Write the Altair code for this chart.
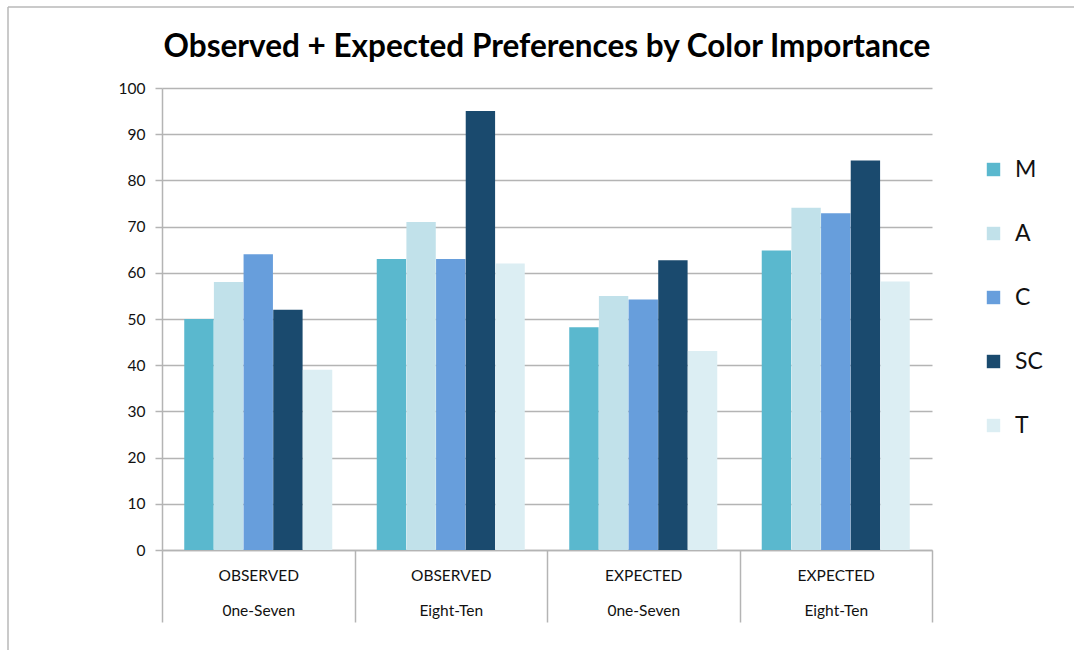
import altair as alt
import pandas as pd

# Category groups on the x axis (two-line labels) and the series in each group
kinds = ["OBSERVED", "OBSERVED", "EXPECTED", "EXPECTED"]
bands = ["0ne-Seven", "Eight-Ten", "0ne-Seven", "Eight-Ten"]
series = ["M", "A", "C", "SC", "T"]

m_vals = [50, 63, 48.2, 64.8]
a_vals = [58, 71, 55, 74.1]
c_vals = [64, 63, 54.2, 72.9]
sc_vals = [52, 95, 62.7, 84.3]
t_vals = [39, 62, 43.1, 58.1]

colors = ["#5AB8CE", "#C1E1EA", "#679EDC", "#1A4A6E", "#DCEEF3"]

title_text = "Observed + Expected Preferences by Color Importance"

groups = [f"{k}|{b}" for k, b in zip(kinds, bands)]
rows = []
for name, vals in zip(series, [m_vals, a_vals, c_vals, sc_vals, t_vals]):
    for g, v in zip(groups, vals):
        rows.append({"group": g, "series": name, "value": v})
df = pd.DataFrame(rows)

FONT = "Lato"
GRID = "#B4B4B4"

bars = alt.Chart(df).mark_bar().encode(
    x=alt.X(
        "group:N",
        sort=groups,
        title=None,
        scale=alt.Scale(paddingInner=0, paddingOuter=0),
        axis=alt.Axis(
            labelAngle=0,
            labelExpr="split(datum.label, '|')",
            labelFont=FONT,
            labelFontSize=15.5,
            labelColor="#111111",
            labelLineHeight=35,
            labelBaseline="top",
            labelPadding=-54,
            tickBand="extent",
            tickSize=72,
            tickColor=GRID,
            tickWidth=1.5,
            domainColor=GRID,
            domainWidth=1.5,
        ),
    ),
    # outer padding inside each group leaves the gap between clusters
    xOffset=alt.XOffset(
        "series:N", sort=series, scale=alt.Scale(paddingInner=0.01, paddingOuter=0.75)
    ),
    y=alt.Y(
        "value:Q",
        title=None,
        scale=alt.Scale(domain=[0, 100], nice=False),
        axis=alt.Axis(
            values=list(range(0, 101, 10)),
            labelFont=FONT,
            labelFontSize=15.5,
            labelColor="#111111",
            labelPadding=10,
            tickSize=7,
            tickColor=GRID,
            tickWidth=1.5,
            domainColor=GRID,
            domainWidth=1.5,
            gridColor=GRID,
            gridWidth=1.5,
        ),
    ),
    color=alt.Color(
        "series:N",
        sort=series,
        scale=alt.Scale(domain=series, range=colors),
        legend=alt.Legend(
            title=None,
            orient="none",
            legendX=820,
            legendY=70,
            symbolType="square",
            symbolSize=180,
            symbolStrokeWidth=0,
            labelFont=FONT,
            labelFontSize=23,
            labelColor="#111111",
            labelOffset=10,
            rowPadding=40,
        ),
    ),
)

# Chart heading, centred over the plot area
heading = alt.Chart(pd.DataFrame({"t": [title_text]})).mark_text(
    font=FONT, fontSize=31.5, fontWeight="bold", color="#000000",
    align="center", baseline="middle", clip=False,
).encode(text="t:N", x=alt.value(385), y=alt.value(-40))

# Thin frame along the top and left edges of the chart
frame_top = alt.Chart(pd.DataFrame({"k": [0]})).mark_rule(color="#B8B8B8", strokeWidth=1.5, clip=False).encode(
    x=alt.value(-154), x2=alt.value(912), y=alt.value(-81)
)
frame_left = alt.Chart(pd.DataFrame({"k": [0]})).mark_rule(color="#B8B8B8", strokeWidth=1.5, clip=False).encode(
    x=alt.value(-154), y=alt.value(-81), y2=alt.value(565)
)

chart = alt.layer(bars, heading, frame_top, frame_left).properties(
    width=770,
    height=462,
    background="white",
    autosize=alt.AutoSizeParams(type="none"),
    padding={"left": 162, "top": 88, "right": 146, "bottom": 100},
).configure_view(stroke=None)

chart.save("out.html", embed_options={"renderer": "svg", "actions": False})
